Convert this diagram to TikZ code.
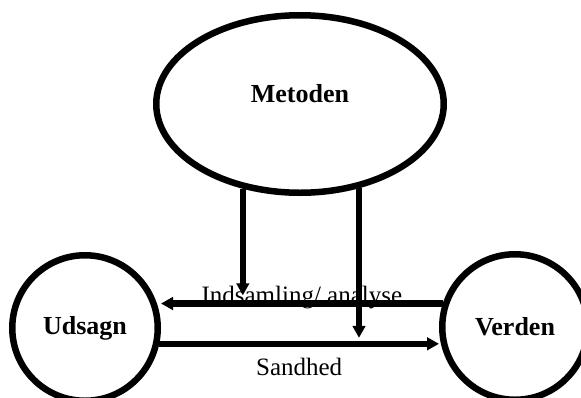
\documentclass[tikz,border=0pt]{standalone}
\usepackage{fontspec}
\setmainfont{Liberation Serif}
\usetikzlibrary{shapes.geometric, arrows.meta}
\begin{document}
\begin{tikzpicture}[x=1pt, y=-1pt,
    bubble/.style={draw, line width=6.5pt, inner sep=0pt},
    bubbletext/.style={inner sep=0pt, font=\fontsize{26}{31}\selectfont\bfseries},
    flow/.style={line width=6.5pt, -{Triangle[width=12.5pt, length=12pt]}},
    flowlabel/.style={inner sep=0pt, font=\fontsize{25}{30}\selectfont}]
    \useasboundingbox (0,0) rectangle (581,397);

    % the three bubbles
    \node[bubble, ellipse, minimum width=287.5pt, minimum height=177.5pt] (metoden) at (300,104) {};
    \node[bubbletext] (metodentext) at ([yshift=10.5pt]metoden.center) {Metoden};
    \node[bubble, bubbletext, circle, minimum size=145.5pt] (udsagn) at (85,328) {Udsagn};
    \node[bubble, bubbletext, circle, minimum size=145.5pt] (verden) at (515,327) {Verden};

    % down from the method
    \draw[flow, shorten >=8pt] (metoden.236) -- (metoden.236 |- udsagn.19);
    \draw[flow, shorten >=6pt] (metoden.-55) -- (metoden.-55 |- udsagn.-12);

    % between statement and world
    \draw[flow] (verden.162) -- (verden.162 -| udsagn.east)
        node[midway, anchor=base, flowlabel] {Indsamling/ analyse};
    \draw[flow] (udsagn.-12) -- (udsagn.-12 -| verden.west)
        node[midway, below=11pt, flowlabel] {Sandhed};
\end{tikzpicture}
\end{document}
